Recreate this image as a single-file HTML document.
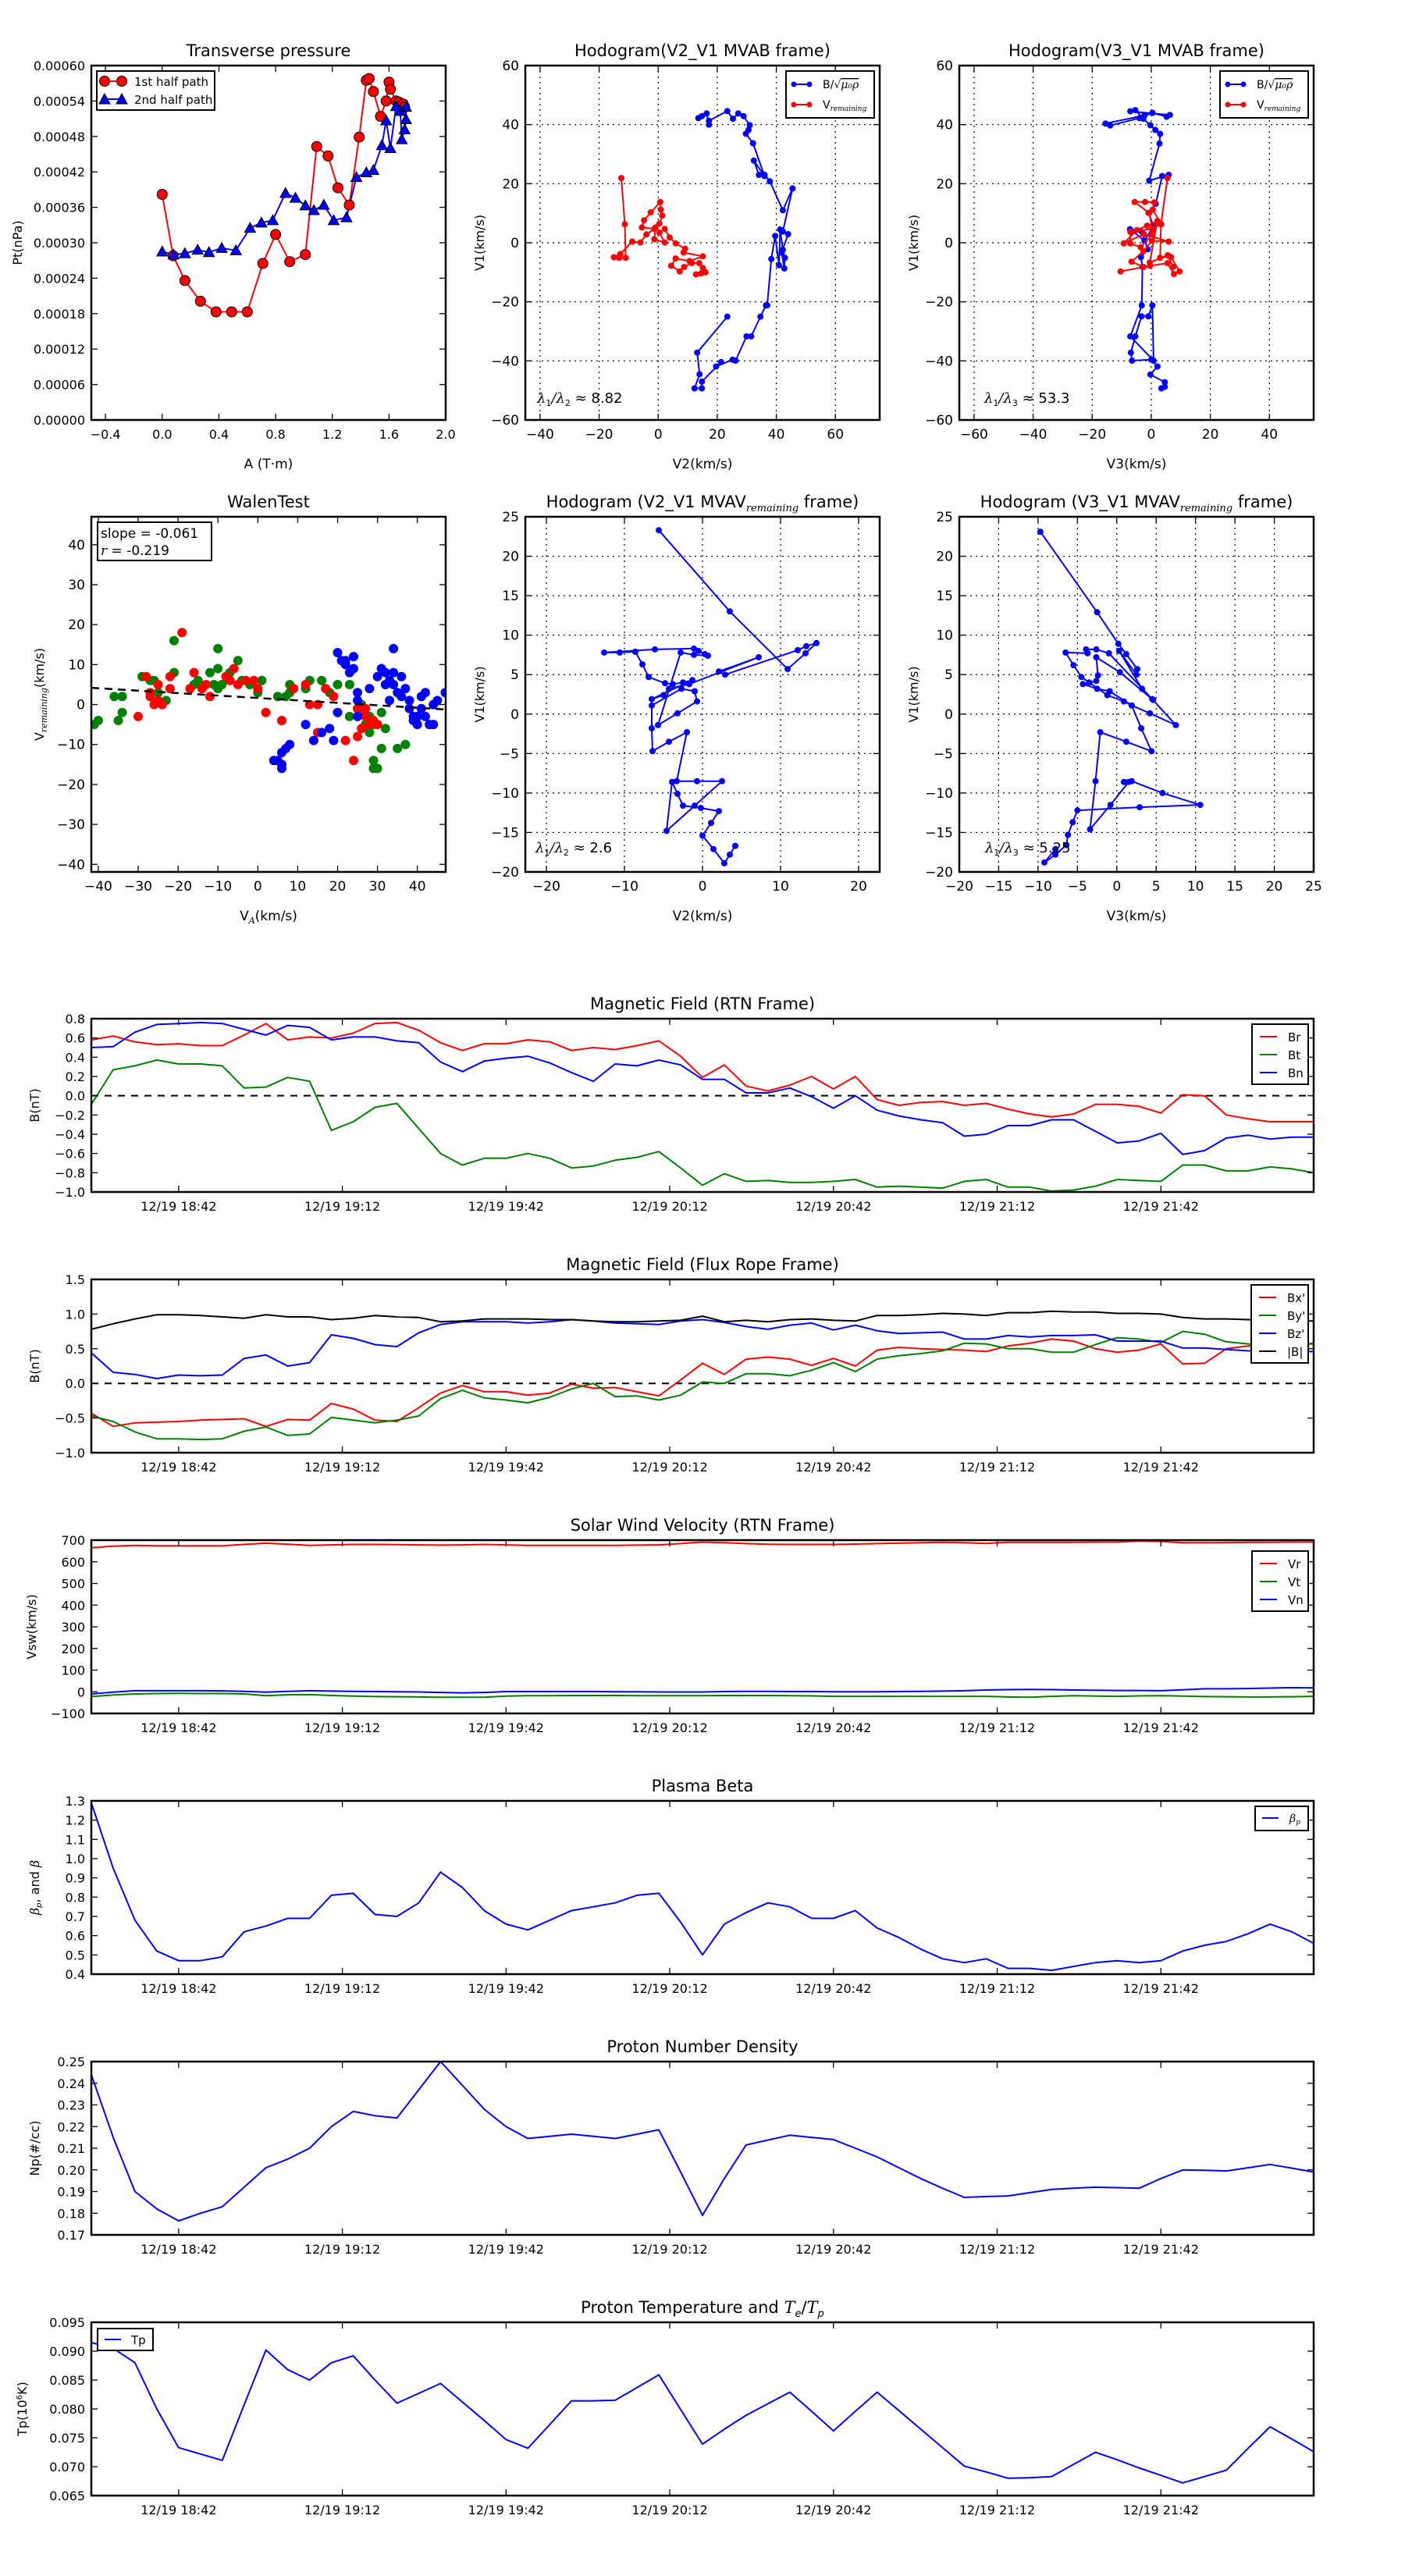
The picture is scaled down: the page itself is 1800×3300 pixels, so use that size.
<!DOCTYPE html>
<html><head><meta charset="utf-8"><title>Flux rope analysis</title>
<style>
html,body{margin:0;padding:0;background:#fff;}
svg{display:block;font-family:"DejaVu Sans","Liberation Sans",sans-serif;}
</style></head>
<body>
<svg id="fig" xmlns="http://www.w3.org/2000/svg" width="1800" height="3300" viewBox="0 0 1800 3300">
<rect x="0" y="0" width="1800" height="3300" fill="#fff"/>
</svg>
<script>
// ---------------- DATA ----------------
// Transverse pressure
const ptA1 = [0.0,0.077,0.16,0.27,0.38,0.49,0.6,0.71,0.8,0.9,1.01,1.09,1.17,1.24,1.32,1.39,1.44,1.46,1.49,1.54,1.58,1.6,1.61,1.65,1.67,1.7,1.71];
const ptP1 = [0.000382,0.000278,0.000236,0.000201,0.000183,0.000183,0.000183,0.000265,0.000314,0.000268,0.00028,0.000463,0.000447,0.000393,0.000364,0.000479,0.000575,0.000578,0.000556,0.000514,0.00054,0.000572,0.00056,0.00054,0.000538,0.000535,0.00053];
const ptA2 = [0.0,0.08,0.16,0.25,0.33,0.42,0.52,0.62,0.7,0.78,0.87,0.94,1.01,1.07,1.14,1.21,1.3,1.37,1.44,1.49,1.55,1.58,1.61,1.65,1.68,1.69,1.71,1.72,1.72];
const ptP2 = [0.000285,0.00028,0.000282,0.000288,0.000284,0.000291,0.000287,0.000325,0.000334,0.000338,0.000384,0.000376,0.000363,0.000355,0.000364,0.000338,0.000343,0.000411,0.000419,0.000423,0.000465,0.000507,0.00046,0.000531,0.000523,0.000475,0.000492,0.000509,0.00053];
// Hodogram V2-V1 MVAB
const h1BV2 = [23.4,13.2,14,12.3,14.8,14.8,21.3,19.6,25.2,26.2,29.9,31.5,34.6,36.5,36.9,38.3,39.6,40.9,41.3,42.2,42.9,42.7,41.8,44,42.2,45.5,42.2,37.8,36,34.1,32.4,36,32.1,29.7,30.6,31,28.9,27.1,25.3,23.4,17.2,17.2,16.4,14.8,13.6];
const h1BV1 = [-25,-37.2,-44.5,-49.3,-49.3,-47,-40.4,-41.9,-39.6,-39.9,-31.7,-31.7,-25,-21.2,-21.2,-5.5,2.3,-7.6,4.5,-2.4,-5.1,-8.7,-3.3,2.9,3.8,18.4,11,20.8,23,23,27.8,22.6,33.7,36.9,38.2,39.8,42.9,43.8,42,44.6,41.3,40,43.8,42.9,42.2];
const h1VV2 = [-12.5,-11.3,-11,-13.2,-15,-12.8,-8.8,-6,-4,-1.3,-5.5,-4.8,-2.5,0.7,0.9,1.4,0.4,-0.9,-1.3,2.2,0.4,2.2,3.9,5.9,9.1,8.6,15.1,10.6,5.9,4.4,7.3,8.8,11.4,13.9,15.1,16,14.5,12.8];
const h1VV1 = [21.9,6.3,-5.1,-5.1,-4.9,-3.8,0.4,0.1,2.8,4.7,5.2,7.6,10.3,13.8,11.2,9.2,6.5,5.2,1.2,0.1,3.4,4.7,1.8,-0.2,-2,-3.3,-4.6,-6.2,-5.3,-7.8,-9.7,-8.2,-6.9,-6.9,-8.5,-10,-10.4,-10.7];
// Hodogram V3-V1 MVAB
const h2BV3 = [3.4,4.6,4.6,-0.3,2.1,0,-6.5,-6.9,-5.4,-3.3,-1,0.4,0.8,-7.1,-3.2,-3,-3.5,-1.2,-3.2,-7.2,-2.3,0.8,-0.9,1.5,3.7,5.9,-0.7,2.8,3,1.4,-0.3,-2.7,-5.4,-7.1,6.3,5.2,0.4,-4,-13.9,-15.5,-2.3];
const h2BV1 = [-49.3,-48.8,-47.2,-44.6,-41.9,-39.6,-39.9,-37.2,-31.7,-24.9,-24.9,-21.2,-39.9,-31.7,-21.2,-8.2,-4.9,-2.2,3.7,4.6,0.7,5.6,10.1,13.2,22.6,23,21,33.6,36.9,38.2,39.8,42,44.9,44.5,43.3,42.7,44,42.2,39.7,40.4,43.1];
const h2VV3 = [5.5,3.3,3,6.1,6.7,9.6,7.7,5.5,-0.4,-10.4,-2.6,-6.7,-2.7,0.2,5.9,-2.5,-9.3,-4.9,-1.4,2.1,3.4,0.5,1,-2.1,-5.6,-0.7,0.4,-7.1,-7.1,-3.6,0.4,1.9,-0.5,5.6,7.4];
const h2VV1 = [21.9,6.3,-5.1,-4.6,-4.9,-9.7,-10.6,-6.9,-7.8,-9.7,-8.2,-6.4,-2.9,0.7,0.4,2.9,-0.2,4.3,5.8,7.4,6.3,11.2,13.7,13.8,13.8,10.1,4.7,3.7,-0.2,-1.5,2.9,6.5,-6.7,-4.2,-8.2];
// Walen test
const walRedX = [-30,-28,-27,-27,-26,-25,-25,-24,-22,-22,-19,-17,-16,-14,-13,-12,-8,-7,-6,-5,-3,-1,0,2,6,9,12,13,15,15,17,19,22,24,25,26,27,28,29,30,26,25,27];
const walRedY = [-3,7,2,3,0,1,5,0,7,4,18,4,8,4,5,2,7,6,9,5,6,6,4,-2,-4,4,5,0,0,-7,4,2,-9,-14,-1,-2,-1,-5,-4,-5,-6,-8,-3];
const walGreenX = [-41,-40,-36,-34,-35,-34,-29,-27,-26,-25,-23,-21,-21,-16,-15,-12,-11,-10,-10,-10,-9,-7,-5,-4,-2,0,1,5,7,8,8,12,13,16,18,20,23,25,26,28,28,27,29,31,31,29,29,30,35,37,32,27,23];
const walGreenY = [-5,-4,2,2,-4,-2,7,6,6,3,1,16,8,5,6,8,5,14,9,4,5,8,11,6,5,3,6,2,2,5,3,4,6,6,3,5,5,-1,0,-3,-7,-3,-5,-2,-11,-14,-16,-16,-11,-10,-6,-5,-3];
const walBlueX = [4,5,6,6,6,7,8,12,14,16,18,19,20,20,21,22,22,23,24,24,25,25,25,28,30,31,32,32,33,33,34,34,34,35,36,36,37,38,38,39,39,40,40,41,41,42,42,43,44,44,45,47];
const walBlueY = [-14,-14,-15,-16,-12,-11,-10,-5,-9,-7,-6,-9,-2,13,11,11,10,8,12,9,3,1,-3,4,7,9,5,8,6,1,8,14,5,3,7,2,4,1,-1,-3,-4,-5,-3,2,-1,-3,3,-5,-5,0,1,3];
const walSlope = -0.061;
const walIntercept = 1.64;
// Hodogram V2-V1 MVAV remaining
const h3V2 = [-5.6,3.5,10.9,13.2,14.6,13.3,12.2,2.9,2.1,7.2,-1.7,-4.3,-5,-6.5,-1.3,-2.5,-3.8,-4.8,-6.9,-7.7,-8.6,-10.6,-12.6,-6.1,-1.1,-0.5,0.3,0.7,-1.1,-2.8,-5.7,-3.2,-0.7,-1,-2.7,-6.5,-6.5,-6.4,-4.3,-2,-3.3,-0.7,2.5,-1,-4.6,-3.9,-3.2,-2.5,-0.2,2.1,1.1,0,1.4,2.8,3.5,4.2];
const h3V1 = [23.3,13,5.7,7.7,9,8.6,8.1,5,5.4,7.2,3.8,3.2,2.4,1.9,4.3,4,3.8,3.9,4.7,6.3,7.9,7.8,7.8,8.2,8.3,8,7.6,7.4,7.5,7.8,-1.4,0.1,1.6,2.9,3.2,1.1,-1.8,-4.7,-3.5,-2.3,-8.5,-8.5,-8.5,-11.6,-14.8,-8.6,-10.1,-11.6,-11.9,-12.3,-13.8,-15.4,-17.1,-18.9,-17.8,-16.7];
// Hodogram V3-V1 MVAV remaining
const h4V3 = [-9.7,-2.5,0.2,1.2,2.6,2.5,0.3,3.2,4.6,0.4,-2.6,-2.4,-2.6,-4.3,-2.5,-0.9,1.9,4.2,7.5,4.5,-1.0,-2.6,-3.9,-3.7,-6.5,-5.5,-4.5,-3.5,-1.2,0.9,1.9,3.1,4.4,1.2,-2.1,-2.7,-3.4,-0.8,1.5,0.9,1.9,5.8,10.6,2.9,-5.0,-5.6,-6.2,-6.4,-7.8,-9.2,-7.8];
const h4V1 = [23.1,12.9,8.9,7.6,5.7,5.0,8.0,3.2,1.8,5.3,7.2,4.9,4.2,3.8,3.2,2.9,1.1,0.1,-1.4,1.9,7.7,8.2,8.2,7.7,7.8,6.2,4.7,4.0,2.4,1.6,1.1,-1.8,-4.7,-3.5,-2.3,-8.5,-14.6,-11.5,-8.6,-8.6,-8.5,-10.0,-11.5,-11.8,-12.2,-13.7,-15.3,-16.6,-17.8,-18.8,-17.1];
// Time series (minutes after 12/19 18:26)
const tMin = [0,4,8,12,16,20,24,28,32,36,40,44,48,52,56,60,64,68,72,76,80,84,88,92,96,100,104,108,112,116,120,124,128,132,136,140,144,148,152,156,160,164,168,172,176,180,184,188,192,196,200,204,208,212,216,220,224];
const timeTickMin = [16,46,76,106,136,166,196];
const timeTickLabels = ["12/19 18:42","12/19 19:12","12/19 19:42","12/19 20:12","12/19 20:42","12/19 21:12","12/19 21:42"];
const Br = [.58,.62,.56,.53,.54,.52,.52,.63,.75,.58,.61,.6,.65,.75,.76,.68,.55,.47,.54,.54,.58,.56,.47,.5,.48,.52,.57,.41,.19,.32,.1,.05,.11,.2,.07,.2,-.04,-.1,-.07,-.06,-.1,-.08,-.14,-.19,-.22,-.19,-.09,-.09,-.11,-.18,.01,0,-.2,-.24,-.27,-.27,-.27];
const Bt = [-.09,.27,.31,.37,.33,.33,.31,.08,.09,.19,.15,-.36,-.27,-.12,-.08,-.34,-.6,-.72,-.65,-.65,-.6,-.65,-.75,-.73,-.67,-.64,-.58,-.75,-.93,-.81,-.89,-.88,-.9,-.9,-.89,-.87,-.95,-.94,-.95,-.96,-.89,-.87,-.95,-.95,-.99,-.98,-.94,-.87,-.88,-.89,-.72,-.72,-.78,-.78,-.74,-.76,-.8];
const Bn = [.5,.51,.66,.74,.75,.76,.75,.69,.63,.73,.71,.58,.61,.61,.57,.55,.35,.25,.36,.39,.41,.34,.24,.15,.33,.31,.37,.32,.17,.17,.03,.03,.08,-.01,-.13,0,-.15,-.21,-.25,-.28,-.42,-.4,-.31,-.31,-.25,-.25,-.37,-.49,-.47,-.39,-.61,-.57,-.44,-.41,-.45,-.43,-.43];
const Bxp = [-.43,-.62,-.57,-.56,-.55,-.53,-.52,-.51,-.62,-.52,-.53,-.29,-.37,-.53,-.55,-.35,-.14,-.03,-.12,-.12,-.17,-.14,-.01,-.07,-.06,-.12,-.18,.05,.29,.13,.35,.38,.35,.26,.36,.25,.48,.52,.5,.49,.48,.46,.54,.58,.64,.61,.5,.45,.48,.57,.28,.29,.5,.54,.55,.56,.57];
const Byp = [-.47,-.55,-.7,-.8,-.8,-.81,-.8,-.69,-.63,-.75,-.73,-.49,-.53,-.57,-.53,-.47,-.22,-.1,-.21,-.24,-.28,-.2,-.08,0,-.19,-.18,-.24,-.17,.02,0,.14,.14,.11,.19,.3,.17,.35,.4,.43,.47,.58,.57,.5,.5,.45,.45,.56,.66,.64,.59,.75,.71,.6,.57,.56,.56,.58];
const Bzp = [.44,.16,.13,.07,.12,.11,.12,.36,.41,.25,.3,.7,.65,.56,.53,.73,.85,.89,.89,.89,.87,.89,.92,.9,.87,.86,.85,.9,.92,.88,.82,.78,.84,.87,.77,.84,.76,.72,.73,.74,.64,.64,.69,.67,.69,.69,.7,.61,.61,.61,.51,.51,.49,.47,.46,.46,.46];
const Bmag = [.78,.86,.93,.99,.99,.98,.96,.94,.99,.96,.96,.92,.94,.98,.96,.95,.89,.9,.93,.93,.93,.92,.92,.9,.89,.89,.9,.91,.97,.89,.91,.89,.92,.93,.91,.9,.98,.98,.99,1.01,1.0,.98,1.02,1.02,1.04,1.03,1.03,1.01,1.01,1.0,.95,.93,.93,.92,.91,.9,.9];
const Vr = [665,672,676,674,674,674,674,680,686,681,676,678,680,680,679,678,677,678,680,678,676,676,676,676,676,677,678,684,691,688,684,681,680,680,680,682,684,686,688,690,688,685,690,690,690,690,691,691,696,694,688,688,689,690,690,691,691];
const Vt = [-22,-15,-10,-8,-7,-8,-8,-10,-18,-14,-13,-17,-20,-22,-23,-24,-25,-25,-25,-20,-18,-18,-17,-17,-17,-18,-18,-18,-18,-17,-17,-17,-18,-19,-21,-21,-21,-21,-21,-21,-21,-21,-24,-25,-21,-18,-20,-21,-19,-18,-20,-22,-23,-24,-24,-23,-21];
const Vn = [-10,-2,5,5,5,5,4,2,-2,2,5,3,2,1,0,-1,-3,-5,-3,1,1,1,1,1,0,0,-1,-1,-1,1,2,2,1,1,0,0,0,1,2,3,5,8,10,11,10,8,7,6,6,5,9,14,14,15,17,19,18];
const betaP = [1.29,.95,.68,.52,.47,.47,.49,.62,.65,.69,.69,.81,.82,.71,.70,.77,.93,.85,.73,.66,.63,.68,.73,.75,.77,.81,.82,.67,.5,.66,.72,.77,.75,.69,.69,.73,.64,.59,.53,.48,.46,.48,.43,.43,.42,.44,.46,.47,.46,.47,.52,.55,.57,.61,.66,.62,.56];
const Np = [.244,.215,.19,.182,.1765,.18,.183,.192,.201,.205,.21,.22,.227,.225,.224,.237,.25,.239,.228,.22,.2145,.2155,.2165,.2155,.2145,.2165,.2185,.199,.179,.196,.2115,.2138,.216,.215,.214,.21,.206,.201,.196,.1915,.1873,.1877,.188,.1895,.191,.1915,.192,.1918,.1915,.196,.2,.1998,.1995,.201,.2025,.2008,.199];
const Tp = [.0915,.0905,.088,.080,.0733,.0722,.0711,.0807,.0902,.0868,.085,.088,.0892,.085,.081,.0827,.0844,.0812,.078,.0747,.0732,.0773,.0814,.0814,.0815,.0837,.0859,.0799,.0739,.0765,.0789,.0809,.0829,.0796,.0762,.0796,.0829,.0797,.0765,.0733,.0701,.0691,.068,.0681,.0683,.0704,.0725,.0712,.0698,.0685,.0672,.0683,.0694,.0732,.0769,.0748,.0726];

// ---------------- DRAWING ----------------
const NS = 'http://www.w3.org/2000/svg';
const svg = document.getElementById('fig');
let clipN = 0;
function el(tag, attrs, name, parent) {
  const e = document.createElementNS(NS, tag);
  for (const k in attrs) e.setAttribute(k, attrs[k]);
  
  
  (parent || svg).appendChild(e);
  return e;
}
function text(x, y, s, size, anchor, name, parent, extra) {
  const a = {x: x, y: y, 'font-size': size, 'text-anchor': anchor || 'middle', fill: '#000'};
  if (extra) for (const k in extra) a[k] = extra[k];
  const t = el('text', a, name, parent);
  t.textContent = s;
  return t;
}
function fmtNum(v, d) {
  const s = Math.abs(v).toFixed(d);
  return (v < 0 && Number(s) !== 0 ? '\u2212' : '') + s;
}
function range(a, b, st) { const r = []; for (let v = a; v <= b + st * 1e-6; v += st) r.push(+v.toFixed(10)); return r; }

function axes(c) {
  const g = el('g', {}, c.name);
  const sx = v => c.x + (v - c.xmin) / (c.xmax - c.xmin) * c.w;
  const sy = v => c.y + c.h - (v - c.ymin) / (c.ymax - c.ymin) * c.h;
  const id = 'clip' + (++clipN);
  const cp = el('clipPath', {id: id}, 'plot-clip', g);
  el('rect', {x: c.x, y: c.y, width: c.w, height: c.h}, 'plot-clip-rect', cp);
  if (c.grid) {
    c.xticks.forEach(v => { const X = sx(v); el('line', {x1: X, x2: X, y1: c.y, y2: c.y + c.h, stroke: '#000', 'stroke-width': 1.2, 'stroke-dasharray': '2,5'}, 'x-grid-line', g); });
    c.yticks.forEach(v => { const Y = sy(v); el('line', {x1: c.x, x2: c.x + c.w, y1: Y, y2: Y, stroke: '#000', 'stroke-width': 1.2, 'stroke-dasharray': '2,5'}, 'y-grid-line', g); });
  }
  const plot = el('g', {'clip-path': 'url(#' + id + ')'}, 'plot-area', g);
  // ticks
  c.xticks.forEach((v, i) => {
    const X = sx(v);
    el('line', {x1: X, x2: X, y1: c.y + c.h, y2: c.y + c.h - 8, stroke: '#000', 'stroke-width': 1.3}, 'x-tick', g);
    el('line', {x1: X, x2: X, y1: c.y, y2: c.y + 8, stroke: '#000', 'stroke-width': 1.3}, 'x-tick-top', g);
    const lab = c.xlabels ? c.xlabels[i] : c.xfmt(v);
    text(X, c.y + c.h + 24, lab, c.tickSize || 17, 'middle', 'x-tick-label', g);
  });
  c.yticks.forEach(v => {
    const Y = sy(v);
    el('line', {x1: c.x, x2: c.x + 8, y1: Y, y2: Y, stroke: '#000', 'stroke-width': 1.3}, 'y-tick', g);
    el('line', {x1: c.x + c.w, x2: c.x + c.w - 8, y1: Y, y2: Y, stroke: '#000', 'stroke-width': 1.3}, 'y-tick-right', g);
    text(c.x - 8, Y + 6, c.yfmt(v), c.tickSize || 17, 'end', 'y-tick-label', g);
  });
  const frame = () => el('rect', {x: c.x, y: c.y, width: c.w, height: c.h, fill: 'none', stroke: '#000', 'stroke-width': 2.5}, 'axes-frame', g);
  return {sx, sy, g, plot, frame, c};
}
function polyline(ax, xs, ys, color, w, name) {
  const pts = xs.map((v, i) => ax.sx(v).toFixed(1) + ',' + ax.sy(ys[i]).toFixed(1)).join(' ');
  return el('polyline', {points: pts, fill: 'none', stroke: color, 'stroke-width': w, 'stroke-linejoin': 'round'}, name, ax.plot);
}
function dots(ax, xs, ys, color, r, name, stroke) {
  xs.forEach((v, i) => {
    el('circle', {cx: ax.sx(v).toFixed(1), cy: ax.sy(ys[i]).toFixed(1), r: r, fill: color, stroke: stroke || 'none', 'stroke-width': 1}, name, ax.plot);
  });
}
function tris(ax, xs, ys, color, r, name) {
  xs.forEach((v, i) => {
    const X = ax.sx(v), Y = ax.sy(ys[i]);
    el('polygon', {points: `${X},${Y - r} ${X - r},${Y + r * 0.8} ${X + r},${Y + r * 0.8}`, fill: color, stroke: '#000', 'stroke-width': 1}, name, ax.plot);
  });
}
function title(ax, s, name, subs) {
  const c = ax.c;
  const t = text(c.x + c.w / 2, c.y - 12, s, 21, 'middle', name, ax.g);
  return t;
}
function ylabel(ax, s, x, name, size) {
  const c = ax.c;
  const cy = c.y + c.h / 2;
  return text(x, cy, s, size || 16, 'middle', name, ax.g, {transform: `rotate(-90 ${x} ${cy})`});
}
function xlabel(ax, s, name) {
  const c = ax.c;
  return text(c.x + c.w / 2, c.y + c.h + 62, s, 17, 'middle', name, ax.g);
}
function tspan(parent, s, attrs, name) {
  const t = el('tspan', attrs || {}, name, parent);
  t.textContent = s;
  return t;
}

// ---- Panel 1: Transverse pressure ----
(function () {
  const ax = axes({name: 'transverse-pressure-panel', x: 117, y: 84, w: 454, h: 454, xmin: -0.5, xmax: 2.0, ymin: 0, ymax: 0.0006,
    xticks: range(-0.4, 2.0, 0.4), yticks: range(0, 0.0006, 0.00006), xfmt: v => fmtNum(v, 1), yfmt: v => fmtNum(v, 5), tickSize: 16});
  polyline(ax, ptA1, ptP1, '#f00', 2, 'first-half-path-line');
  polyline(ax, ptA2, ptP2, '#00f', 2, 'second-half-path-line');
  dots(ax, ptA1, ptP1, '#f00', 6.5, 'first-half-point', '#000');
  tris(ax, ptA2, ptP2, '#00f', 7, 'second-half-point');
  ax.frame();
  title(ax, 'Transverse pressure', 'transverse-pressure-title');
  ylabel(ax, 'Pt(nPa)', 28, 'pt-y-axis-title');
  xlabel(ax, 'A (T\u00b7m)', 'a-x-axis-title');
  const lg = el('g', {}, 'pressure-legend');
  el('rect', {x: 124, y: 91, width: 151, height: 50, fill: '#fff', stroke: '#000', 'stroke-width': 2}, 'legend-box', lg);
  el('line', {x1: 134, x2: 156, y1: 104, y2: 104, stroke: '#f00', 'stroke-width': 2}, 'legend-line-first', lg);
  el('circle', {cx: 134, cy: 104, r: 6.5, fill: '#f00', stroke: '#000'}, 'legend-marker-first', lg);
  el('circle', {cx: 156, cy: 104, r: 6.5, fill: '#f00', stroke: '#000'}, 'legend-marker-first', lg);
  text(172, 110, '1st half path', 15, 'start', 'legend-entry-first-half', lg);
  el('line', {x1: 134, x2: 156, y1: 127, y2: 127, stroke: '#00f', 'stroke-width': 2}, 'legend-line-second', lg);
  el('polygon', {points: '134,120 127,133 141,133', fill: '#00f', stroke: '#000'}, 'legend-marker-second', lg);
  el('polygon', {points: '156,120 149,133 163,133', fill: '#00f', stroke: '#000'}, 'legend-marker-second', lg);
  text(172, 133, '2nd half path', 15, 'start', 'legend-entry-second-half', lg);
})();

function hodoLegend(x, y, name) {
  const lg = el('g', {}, name);
  el('rect', {x: x, y: y, width: 113, height: 60, fill: '#fff', stroke: '#000', 'stroke-width': 2}, 'legend-box', lg);
  el('line', {x1: x + 10, x2: x + 30, y1: y + 17, y2: y + 17, stroke: '#00f', 'stroke-width': 2}, 'legend-line-b', lg);
  el('circle', {cx: x + 10, cy: y + 17, r: 3.5, fill: '#00f'}, 'legend-marker-b', lg);
  el('circle', {cx: x + 30, cy: y + 17, r: 3.5, fill: '#00f'}, 'legend-marker-b', lg);
  const t1 = text(x + 47, y + 22, 'B/\u221a', 14, 'start', 'legend-entry-b-alfven', lg);
  tspan(t1, '\u03bc\u2080\u03c1', {'font-style': 'italic', 'font-family': 'DejaVu Serif, serif', 'text-decoration': 'overline'}, 'legend-mu-rho');
  el('line', {x1: x + 10, x2: x + 30, y1: y + 43, y2: y + 43, stroke: '#f00', 'stroke-width': 2}, 'legend-line-v', lg);
  el('circle', {cx: x + 10, cy: y + 43, r: 3.5, fill: '#f00'}, 'legend-marker-v', lg);
  el('circle', {cx: x + 30, cy: y + 43, r: 3.5, fill: '#f00'}, 'legend-marker-v', lg);
  const t2 = text(x + 47, y + 48, 'V', 14, 'start', 'legend-entry-v-remaining', lg);
  tspan(t2, 'remaining', {'font-size': 9, 'font-style': 'italic', 'font-family': 'DejaVu Serif, serif', dy: 3}, 'legend-subscript');
}
function lambdaText(ax, x, y, sub2, val, name) {
  const t = text(x, y, '', 18, 'start', name, ax.g);
  tspan(t, '\u03bb', {'font-style': 'italic', 'font-family': 'DejaVu Serif, serif'}, 'lambda-1');
  tspan(t, '1', {'font-size': 11, dy: 4}, 'lambda-sub-1');
  tspan(t, '/\u03bb', {'font-style': 'italic', 'font-family': 'DejaVu Serif, serif', dy: -4}, 'lambda-2');
  tspan(t, sub2, {'font-size': 11, dy: 4}, 'lambda-sub-2');
  tspan(t, ' \u2248 ' + val, {dy: -4}, 'lambda-ratio-value');
}

// ---- Panel 2: Hodogram V2 V1 MVAB ----
(function () {
  const ax = axes({name: 'hodogram-v2-v1-mvab-panel', x: 673, y: 84, w: 454, h: 454, xmin: -45, xmax: 75, ymin: -60, ymax: 60,
    xticks: range(-40, 60, 20), yticks: range(-60, 60, 20), xfmt: v => fmtNum(v, 0), yfmt: v => fmtNum(v, 0), grid: true});
  polyline(ax, h1BV2, h1BV1, '#00f', 2, 'b-alfven-path');
  dots(ax, h1BV2, h1BV1, '#00f', 4, 'b-alfven-point');
  polyline(ax, h1VV2, h1VV1, '#f00', 2, 'v-remaining-path');
  dots(ax, h1VV2, h1VV1, '#f00', 4, 'v-remaining-point');
  ax.frame();
  title(ax, 'Hodogram(V2_V1 MVAB frame)', 'hodogram-v2-mvab-title');
  ylabel(ax, 'V1(km/s)', 620, 'v1-y-axis-title');
  xlabel(ax, 'V2(km/s)', 'v2-x-axis-title');
  hodoLegend(1007, 91, 'hodogram-v2-legend');
  lambdaText(ax, 688, 516, '2', '8.82', 'eigenvalue-ratio-label');
})();

// ---- Panel 3: Hodogram V3 V1 MVAB ----
(function () {
  const ax = axes({name: 'hodogram-v3-v1-mvab-panel', x: 1229, y: 84, w: 454, h: 454, xmin: -65, xmax: 55, ymin: -60, ymax: 60,
    xticks: range(-60, 40, 20), yticks: range(-60, 60, 20), xfmt: v => fmtNum(v, 0), yfmt: v => fmtNum(v, 0), grid: true});
  polyline(ax, h2BV3, h2BV1, '#00f', 2, 'b-alfven-path');
  dots(ax, h2BV3, h2BV1, '#00f', 4, 'b-alfven-point');
  polyline(ax, h2VV3, h2VV1, '#f00', 2, 'v-remaining-path');
  dots(ax, h2VV3, h2VV1, '#f00', 4, 'v-remaining-point');
  ax.frame();
  title(ax, 'Hodogram(V3_V1 MVAB frame)', 'hodogram-v3-mvab-title');
  ylabel(ax, 'V1(km/s)', 1176, 'v1-y-axis-title');
  xlabel(ax, 'V3(km/s)', 'v3-x-axis-title');
  hodoLegend(1563, 91, 'hodogram-v3-legend');
  lambdaText(ax, 1261, 516, '3', '53.3', 'eigenvalue-ratio-label');
})();

// ---- Panel 4: Walen test ----
(function () {
  const ax = axes({name: 'walen-test-panel', x: 117, y: 662, w: 454, h: 455, xmin: -41.75, xmax: 47.1, ymin: -41.9, ymax: 47.0,
    xticks: range(-40, 40, 10), yticks: range(-40, 40, 10), xfmt: v => fmtNum(v, 0), yfmt: v => fmtNum(v, 0)});
  dots(ax, walGreenX, walGreenY, '#008000', 6, 'walen-green-point');
  dots(ax, walRedX, walRedY, '#f00', 6, 'walen-red-point');
  dots(ax, walBlueX, walBlueY, '#00f', 6, 'walen-blue-point');
  const fx = [ax.c.xmin, ax.c.xmax];
  const fy = fx.map(v => walSlope * v + walIntercept);
  el('line', {x1: ax.sx(fx[0]), y1: ax.sy(fy[0]), x2: ax.sx(fx[1]), y2: ax.sy(fy[1]), stroke: '#000', 'stroke-width': 2.5, 'stroke-dasharray': '10,7'}, 'walen-fit-line', ax.plot);
  ax.frame();
  title(ax, 'WalenTest', 'walen-test-title');
  const yl = ylabel(ax, 'V', 56, 'v-remaining-y-axis-title');
  tspan(yl, 'remaining', {'font-size': 11, 'font-style': 'italic', 'font-family': 'DejaVu Serif, serif', dy: 4}, 'ylabel-subscript');
  tspan(yl, '(km/s)', {dy: -4}, 'ylabel-unit');
  const xl = xlabel(ax, 'V', 'va-x-axis-title');
  tspan(xl, 'A', {'font-size': 11, 'font-style': 'italic', 'font-family': 'DejaVu Serif, serif', dy: 4}, 'xlabel-subscript');
  tspan(xl, '(km/s)', {dy: -4}, 'xlabel-unit');
  const bx = el('g', {}, 'walen-stats-box');
  el('rect', {x: 125, y: 669, width: 146, height: 49, fill: '#fff', stroke: '#000', 'stroke-width': 2}, 'stats-box-frame', bx);
  text(129, 689, 'slope = -0.061', 17, 'start', 'slope-label', bx);
  const r = text(129, 711, '', 17, 'start', 'correlation-label', bx);
  tspan(r, 'r', {'font-style': 'italic', 'font-family': 'DejaVu Serif, serif'}, 'r-symbol');
  tspan(r, ' = -0.219', {}, 'r-value');
})();

function subTitle(ax, pre, sub, post, name) {
  const c = ax.c;
  const t = text(c.x + c.w / 2, c.y - 12, pre, 21, 'middle', name, ax.g);
  tspan(t, sub, {'font-size': 13, 'font-style': 'italic', 'font-family': 'DejaVu Serif, serif', dy: 5}, 'title-subscript');
  tspan(t, post, {dy: -5}, 'title-suffix');
}

// ---- Panel 5: Hodogram V2 V1 MVAV ----
(function () {
  const ax = axes({name: 'hodogram-v2-v1-mvav-panel', x: 673, y: 662, w: 454, h: 455, xmin: -22.7, xmax: 22.7, ymin: -20, ymax: 25,
    xticks: range(-20, 20, 10), yticks: range(-20, 25, 5), xfmt: v => fmtNum(v, 0), yfmt: v => fmtNum(v, 0), grid: true});
  polyline(ax, h3V2, h3V1, '#00f', 2, 'mvav-v2-path');
  dots(ax, h3V2, h3V1, '#00f', 4, 'mvav-v2-point');
  ax.frame();
  subTitle(ax, 'Hodogram (V2_V1 MVAV', 'remaining', ' frame)', 'hodogram-v2-mvav-title');
  ylabel(ax, 'V1(km/s)', 620, 'v1-y-axis-title');
  xlabel(ax, 'V2(km/s)', 'v2-x-axis-title');
  lambdaText(ax, 686, 1092, '2', '2.6', 'eigenvalue-ratio-label');
})();

// ---- Panel 6: Hodogram V3 V1 MVAV ----
(function () {
  const ax = axes({name: 'hodogram-v3-v1-mvav-panel', x: 1229, y: 662, w: 454, h: 455, xmin: -20, xmax: 25, ymin: -20, ymax: 25,
    xticks: range(-20, 25, 5), yticks: range(-20, 25, 5), xfmt: v => fmtNum(v, 0), yfmt: v => fmtNum(v, 0), grid: true});
  polyline(ax, h4V3, h4V1, '#00f', 2, 'mvav-v3-path');
  dots(ax, h4V3, h4V1, '#00f', 4, 'mvav-v3-point');
  ax.frame();
  subTitle(ax, 'Hodogram (V3_V1 MVAV', 'remaining', ' frame)', 'hodogram-v3-mvav-title');
  ylabel(ax, 'V1(km/s)', 1176, 'v1-y-axis-title');
  xlabel(ax, 'V3(km/s)', 'v3-x-axis-title');
  lambdaText(ax, 1262, 1092, '3', '5.25', 'eigenvalue-ratio-label');
})();

// ---- Time series panels ----
function tsAxes(name, top, ymin, ymax, yticks, dec) {
  return axes({name: name, x: 117, y: top, w: 1566, h: 222, xmin: 0, xmax: 224, ymin: ymin, ymax: ymax,
    xticks: timeTickMin, xlabels: timeTickLabels, yticks: yticks, yfmt: v => fmtNum(v, dec), tickSize: 16});
}
function tsLegend(x, y, w, items, name) {
  const lg = el('g', {}, name);
  el('rect', {x: x, y: y, width: w, height: items.length * 23 + 8, fill: '#fff', stroke: '#000', 'stroke-width': 2}, 'legend-box', lg);
  items.forEach((it, i) => {
    const yy = y + 16 + i * 23;
    el('line', {x1: x + 10, x2: x + 32, y1: yy, y2: yy, stroke: it[1], 'stroke-width': 2}, 'legend-line-' + it[2], lg);
    const t = text(x + 46, yy + 6, it[0], 15, 'start', 'legend-entry-' + it[2], lg);
    if (it[3]) tspan(t, it[3], {'font-size': 10, dy: 4}, 'legend-subscript');
  });
}
function zeroLine(ax) {
  el('line', {x1: ax.c.x, x2: ax.c.x + ax.c.w, y1: ax.sy(0), y2: ax.sy(0), stroke: '#000', 'stroke-width': 2, 'stroke-dasharray': '9,8'}, 'zero-reference-line', ax.plot);
}

(function () {
  const ax = tsAxes('magnetic-field-rtn-panel', 1305, -1.0, 0.8, range(-1.0, 0.8, 0.2), 1);
  zeroLine(ax);
  polyline(ax, tMin, Br, '#f00', 2, 'br-line');
  polyline(ax, tMin, Bt, '#008000', 2, 'bt-line');
  polyline(ax, tMin, Bn, '#00f', 2, 'bn-line');
  ax.frame();
  title(ax, 'Magnetic Field (RTN Frame)', 'magnetic-field-rtn-title');
  ylabel(ax, 'B(nT)', 50, 'b-rtn-y-axis-title');
  tsLegend(1604, 1312, 72, [['Br', '#f00', 'br'], ['Bt', '#008000', 'bt'], ['Bn', '#00f', 'bn']], 'rtn-legend');
})();
(function () {
  const ax = tsAxes('magnetic-field-flux-rope-panel', 1639, -1.0, 1.5, range(-1.0, 1.5, 0.5), 1);
  zeroLine(ax);
  polyline(ax, tMin, Bxp, '#f00', 2, 'bx-prime-line');
  polyline(ax, tMin, Byp, '#008000', 2, 'by-prime-line');
  polyline(ax, tMin, Bzp, '#00f', 2, 'bz-prime-line');
  polyline(ax, tMin, Bmag, '#000', 2, 'b-magnitude-line');
  ax.frame();
  title(ax, 'Magnetic Field (Flux Rope Frame)', 'magnetic-field-flux-rope-title');
  ylabel(ax, 'B(nT)', 50, 'b-flux-rope-y-axis-title');
  tsLegend(1603, 1646, 73, [["Bx'", '#f00', 'bx'], ["By'", '#008000', 'by'], ["Bz'", '#00f', 'bz'], ['|B|', '#000', 'bmag']], 'flux-rope-legend');
})();
(function () {
  const ax = tsAxes('solar-wind-velocity-panel', 1973, -100, 700, range(-100, 700, 100), 0);
  polyline(ax, tMin, Vr, '#f00', 2, 'vr-line');
  polyline(ax, tMin, Vt, '#008000', 2, 'vt-line');
  polyline(ax, tMin, Vn, '#00f', 2, 'vn-line');
  ax.frame();
  title(ax, 'Solar Wind Velocity (RTN Frame)', 'solar-wind-velocity-title');
  ylabel(ax, 'Vsw(km/s)', 46, 'vsw-y-axis-title');
  tsLegend(1604, 1987, 72, [['Vr', '#f00', 'vr'], ['Vt', '#008000', 'vt'], ['Vn', '#00f', 'vn']], 'velocity-legend');
})();
(function () {
  const ax = tsAxes('plasma-beta-panel', 2307, 0.4, 1.3, range(0.4, 1.3, 0.1), 1);
  polyline(ax, tMin, betaP, '#00f', 2, 'beta-p-line');
  ax.frame();
  title(ax, 'Plasma Beta', 'plasma-beta-title');
  const yl = ylabel(ax, '', 50, 'beta-y-axis-title');
  tspan(yl, '\u03b2', {'font-style': 'italic', 'font-family': 'DejaVu Serif, serif'}, 'beta-symbol');
  tspan(yl, 'p', {'font-size': 10, 'font-style': 'italic', dy: 3}, 'beta-subscript');
  tspan(yl, ', and ', {dy: -3}, 'ylabel-and');
  tspan(yl, '\u03b2', {'font-style': 'italic', 'font-family': 'DejaVu Serif, serif'}, 'beta-symbol');
  const lg = el('g', {}, 'beta-legend');
  el('rect', {x: 1608, y: 2314, width: 68, height: 31, fill: '#fff', stroke: '#000', 'stroke-width': 2}, 'legend-box', lg);
  el('line', {x1: 1617, x2: 1638, y1: 2329, y2: 2329, stroke: '#00f', 'stroke-width': 2}, 'legend-line-beta', lg);
  const t = text(1652, 2334, '\u03b2', 14, 'start', 'legend-entry-beta-p', lg, {'font-style': 'italic', 'font-family': 'DejaVu Serif, serif'});
  tspan(t, 'p', {'font-size': 9, dy: 3}, 'legend-subscript');
})();
(function () {
  const ax = tsAxes('proton-density-panel', 2641, 0.17, 0.25, range(0.17, 0.25, 0.01), 2);
  polyline(ax, tMin, Np, '#00f', 2, 'np-line');
  ax.frame();
  title(ax, 'Proton Number Density', 'proton-density-title');
  ylabel(ax, 'Np(#/cc)', 50, 'np-y-axis-title');
})();
(function () {
  const ax = tsAxes('proton-temperature-panel', 2975, 0.065, 0.095, range(0.065, 0.095, 0.005), 3);
  polyline(ax, tMin, Tp, '#00f', 2, 'tp-line');
  ax.frame();
  const c = ax.c;
  const t = text(c.x + c.w / 2, c.y - 12, 'Proton Temperature and ', 21, 'middle', 'proton-temperature-title', ax.g);
  tspan(t, 'T', {'font-style': 'italic', 'font-family': 'DejaVu Serif, serif'}, 'te-symbol');
  tspan(t, 'e', {'font-size': 13, 'font-style': 'italic', dy: 5}, 'te-subscript');
  tspan(t, '/', {dy: -5}, 'ratio-slash');
  tspan(t, 'T', {'font-style': 'italic', 'font-family': 'DejaVu Serif, serif'}, 'tp-symbol');
  tspan(t, 'p', {'font-size': 13, 'font-style': 'italic', dy: 5}, 'tp-subscript');
  const yl = ylabel(ax, 'Tp(10', 34, 'tp-y-axis-title');
  tspan(yl, '6', {'font-size': 10, dy: -6}, 'exponent');
  tspan(yl, 'K)', {dy: 6}, 'ylabel-unit');
  const lg = el('g', {}, 'tp-legend');
  el('rect', {x: 125, y: 2983, width: 71, height: 28, fill: '#fff', stroke: '#000', 'stroke-width': 2}, 'legend-box', lg);
  el('line', {x1: 134, x2: 155, y1: 2997, y2: 2997, stroke: '#00f', 'stroke-width': 2}, 'legend-line-tp', lg);
  text(168, 3003, 'Tp', 15, 'start', 'legend-entry-tp', lg);
})();
</script>
</body></html>
